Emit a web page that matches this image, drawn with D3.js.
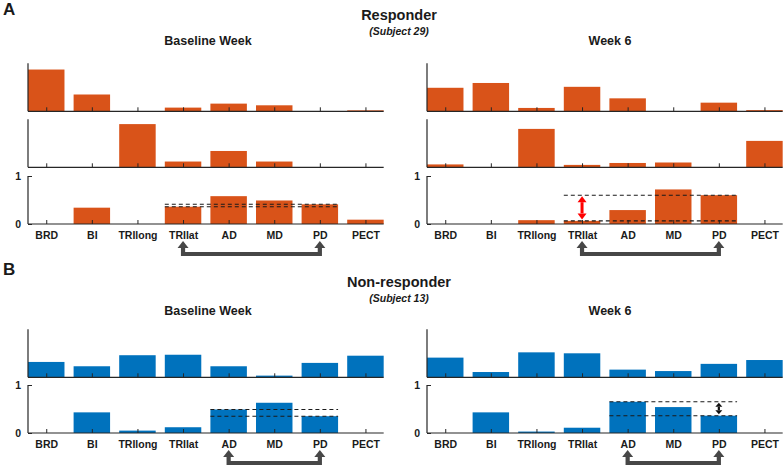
<!DOCTYPE html>
<html>
<head>
<meta charset="utf-8">
<script src="https://cdn.jsdelivr.net/npm/d3@7"></script>
<style>
  body { margin: 0; background: #fff; }
  svg text { font-family: "Liberation Sans", Arial, sans-serif; fill: #1a1a1a; }
</style>
</head>
<body>
<svg id="chart" width="784" height="468"></svg>
<script>
const MUSCLES = ['BRD', 'BI', 'TRIlong', 'TRIlat', 'AD', 'MD', 'PD', 'PECT'];

// A: responder (subject 29)
const A_BASE_ROW1 = [0.87, 0.35, 0, 0.077, 0.16, 0.125, 0, 0.02];
const A_BASE_ROW2 = [0, 0, 0.9, 0.12, 0.34, 0.12, 0, 0];
const A_BASE_ROW3 = [0, 0.34, 0, 0.36, 0.58, 0.49, 0.41, 0.09];
const A_W6_ROW1 = [0.49, 0.59, 0.07, 0.51, 0.27, 0, 0.18, 0.025];
const A_W6_ROW2 = [0.06, 0, 0.8, 0.05, 0.09, 0.1, 0, 0.55];
const A_W6_ROW3 = [0, 0, 0.08, 0.065, 0.29, 0.72, 0.6, 0];

// B: non-responder (subject 13)
const B_BASE_ROW1 = [0.32, 0.23, 0.46, 0.47, 0.23, 0.035, 0.3, 0.45];
const B_BASE_ROW2 = [0, 0.43, 0.05, 0.12, 0.49, 0.63, 0.35, 0];
const B_W6_ROW1 = [0.41, 0.11, 0.52, 0.5, 0.16, 0.13, 0.28, 0.36];
const B_W6_ROW2 = [0, 0.43, 0.03, 0.11, 0.65, 0.54, 0.36, 0];

const ORANGE = '#D95319';
const BLUE = '#0072BD';
const AXIS = '#262626';
const ARROW = '#474747';
const STEP = 45.6;

const svg = d3.select('#chart');

function text(x, y, s, size, opts) {
	opts = opts || {};
	svg.append('text')
		.attr('x', x).attr('y', y)
		.attr('text-anchor', opts.anchor || 'middle')
		.attr('font-size', size)
		.attr('font-weight', 'bold')
		.attr('font-style', opts.italic ? 'italic' : null)
		.text(s);
}

function upHead(g, x, y, w, h, color) {
	g.append('path')
		.attr('d', `M${x},${y} L${x - w / 2},${y + h} L${x + w / 2},${y + h} Z`)
		.attr('fill', color);
}
function downHead(g, x, y, w, h, color) {
	g.append('path')
		.attr('d', `M${x},${y} L${x - w / 2},${y - h} L${x + w / 2},${y - h} Z`)
		.attr('fill', color);
}

// one bar row; returns scales so the caller can add annotations
function drawRow(x0, top, values, color, last) {
	const h = 48;
	const x = d3.scalePoint().domain(MUSCLES)
		.range([x0 + 0.4 * STEP, x0 + 7.4 * STEP]);
	const y = d3.scaleLinear().domain([0, 1]).range([top + h, top]);
	const bw = 0.8 * STEP;
	const g = svg.append('g');

	g.selectAll('rect')
		.data(values)
		.enter()
		.append('rect')
		.attr('x', (d, i) => x(MUSCLES[i]) - bw / 2)
		.attr('width', bw)
		.attr('y', d => y(d))
		.attr('height', d => y(0) - y(d))
		.attr('fill', color);

	let xAxis = d3.axisBottom(x).tickSizeInner(-4).tickSizeOuter(0).tickPadding(8);
	if (!last) xAxis.tickFormat('');
	let ax = g.append('g').attr('transform', `translate(0,${y(0)})`).call(xAxis);
	ax.select('.domain').remove();
	ax.selectAll('line').attr('stroke', AXIS);
	ax.selectAll('text').attr('font-size', 10.5).attr('font-weight', 'bold')
		.attr('font-family', '"Liberation Sans", Arial, sans-serif').attr('fill', '#1a1a1a');

	g.append('line')
		.attr('x1', x0).attr('x2', x0 + 7.8 * STEP)
		.attr('y1', y(0)).attr('y2', y(0))
		.attr('stroke', AXIS).attr('stroke-width', 1.2);

	if (last) {
		let yAxis = d3.axisLeft(y).tickValues([0, 1]).tickFormat(d3.format('d'))
			.tickSizeInner(-4).tickSizeOuter(0).tickPadding(7);
		let ay = g.append('g').attr('transform', `translate(${x0},0)`).call(yAxis);
		ay.select('.domain').remove();
		ay.selectAll('line').attr('stroke', AXIS);
		ay.selectAll('text').attr('font-size', 10.5).attr('font-weight', 'bold')
			.attr('font-family', '"Liberation Sans", Arial, sans-serif').attr('fill', '#1a1a1a');
	}
	g.append('line')
		.attr('x1', x0).attr('x2', x0)
		.attr('y1', top).attr('y2', y(0))
		.attr('stroke', AXIS).attr('stroke-width', 1.2);

	return { g, x, y, bw };
}

function drawPanel(x0, tops, rows, color, pair, dbl) {
	let r;
	rows.forEach((vals, i) => {
		r = drawRow(x0, tops[i], vals, color, i === rows.length - 1);
	});
	const vals = rows[rows.length - 1];
	const { g, x, y, bw } = r;
	const a = MUSCLES.indexOf(pair[0]);
	const b = MUSCLES.indexOf(pair[1]);
	const xa = x(pair[0]), xb = x(pair[1]);

	// reference levels of the two compared muscles
	[vals[a], vals[b]].forEach(v => {
		g.append('line')
			.attr('x1', xa - bw / 2).attr('x2', xb + bw / 2)
			.attr('y1', y(v)).attr('y2', y(v))
			.attr('stroke', '#1a1a1a').attr('stroke-width', 1.1)
			.attr('stroke-dasharray', '4,3');
	});

	if (dbl) {
		const xd = x(dbl.at);
		const y1 = Math.min(y(vals[a]), y(vals[b])) + 1;
		const y2 = Math.max(y(vals[a]), y(vals[b])) - 1.5;
		const hh = dbl.head;
		g.append('line')
			.attr('x1', xd).attr('x2', xd)
			.attr('y1', y1 + hh).attr('y2', y2 - hh)
			.attr('stroke', dbl.color).attr('stroke-width', dbl.width);
		upHead(g, xd, y1, dbl.headW, hh, dbl.color);
		downHead(g, xd, y2, dbl.headW, hh, dbl.color);
	}

	// bracket arrow under the labels
	const base = y(0);
	const tip = base + 17, hy = base + 30;
	g.append('path')
		.attr('d', `M${xa},${tip + 5} L${xa},${hy} L${xb},${hy} L${xb},${tip + 5}`)
		.attr('fill', 'none')
		.attr('stroke', ARROW).attr('stroke-width', 4.2)
		.attr('stroke-linejoin', 'miter');
	upHead(g, xa, tip, 11, 7, ARROW);
	upHead(g, xb, tip, 11, 7, ARROW);
}

// Panel A
text(3, 15, 'A', 17, { anchor: 'start' });
text(399, 20, 'Responder', 14.5);
text(399, 35, '(Subject 29)', 10.5, { italic: true });
text(208, 45, 'Baseline Week', 12.5);
text(610, 45, 'Week 6', 12.5);

drawPanel(28, [63.3, 119.3, 176], [A_BASE_ROW1, A_BASE_ROW2, A_BASE_ROW3], ORANGE,
	['TRIlat', 'PD'], null);
drawPanel(427, [63.3, 119.3, 176], [A_W6_ROW1, A_W6_ROW2, A_W6_ROW3], ORANGE,
	['TRIlat', 'PD'], { at: 'TRIlat', color: '#f00', width: 3, head: 6, headW: 9 });

// Panel B
text(3, 275, 'B', 17, { anchor: 'start' });
text(399, 287, 'Non-responder', 14.5);
text(399, 302, '(Subject 13)', 10.5, { italic: true });
text(208, 315, 'Baseline Week', 12.5);
text(610, 315, 'Week 6', 12.5);

drawPanel(28, [329.3, 385], [B_BASE_ROW1, B_BASE_ROW2], BLUE,
	['AD', 'PD'], null);
drawPanel(427, [329.3, 385], [B_W6_ROW1, B_W6_ROW2], BLUE,
	['AD', 'PD'], { at: 'PD', color: '#111', width: 2.2, head: 4, headW: 7 });
</script>
</body>
</html>
